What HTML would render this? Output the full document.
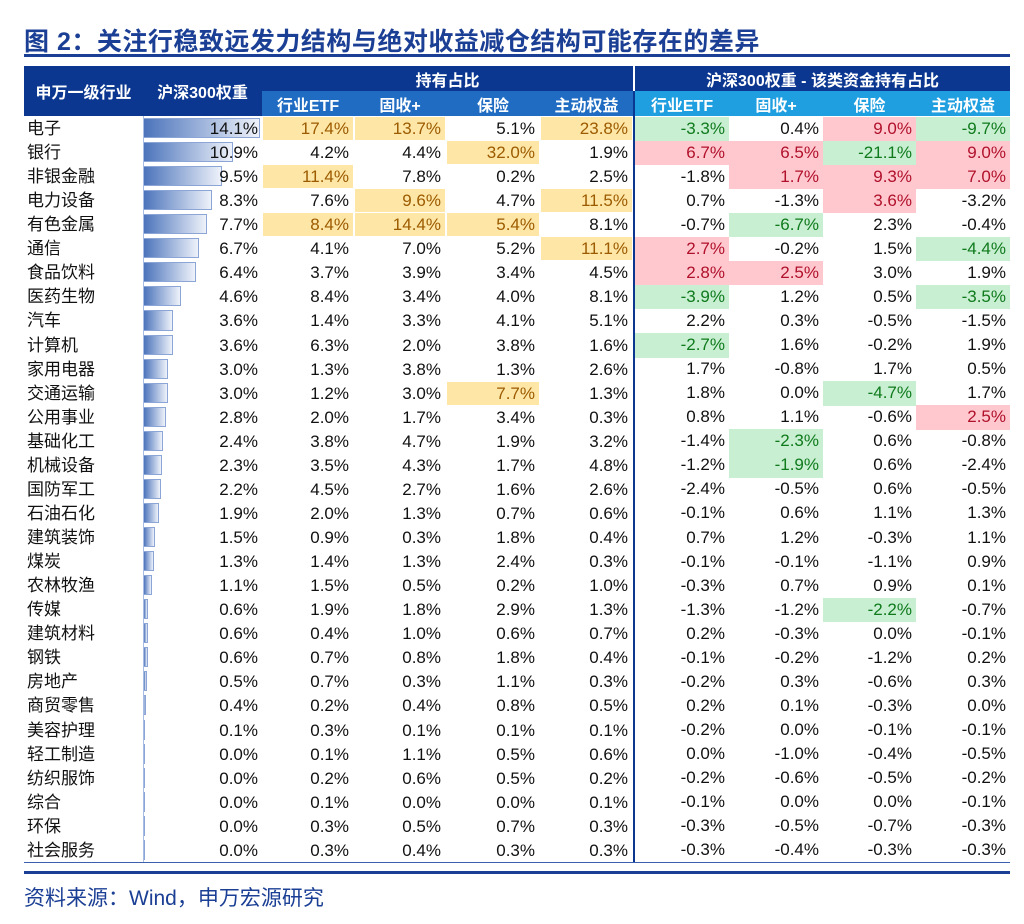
<!DOCTYPE html>
<html><head><meta charset="utf-8">
<style>
html,body{margin:0;padding:0;background:#fff;}
body{width:1024px;height:924px;position:relative;overflow:hidden;font-family:"Liberation Sans","Noto Sans CJK SC",sans-serif;}
#title{position:absolute;left:24px;top:22px;font-size:25px;font-weight:bold;color:#1b3f94;letter-spacing:0.5px;white-space:nowrap;}
#tline{position:absolute;left:24px;top:54px;width:986px;height:3px;background:#1b3f94;}
.h{position:absolute;color:#fff;font-weight:bold;font-size:16px;display:flex;align-items:center;justify-content:center;box-sizing:border-box;white-space:nowrap;}
.c{position:absolute;font-size:17px;box-sizing:border-box;text-align:right;padding-right:4px;line-height:24px;white-space:nowrap;color:#111;}
.n{position:absolute;font-size:17px;line-height:24px;left:27px;color:#111;white-space:nowrap;}
#src{position:absolute;left:24px;top:882px;font-size:21px;color:#1b3f94;}
</style></head><body>
<div id="title">图 2：关注行稳致远发力结构与绝对收益减仓结构可能存在的差异</div>
<div id="tline"></div>
<div id="table"></div>
<div id="src">资料来源：Wind，申万宏源研究</div>
<script>
const industries=["电子","银行","非银金融","电力设备","有色金属","通信","食品饮料","医药生物","汽车","计算机","家用电器","交通运输","公用事业","基础化工","机械设备","国防军工","石油石化","建筑装饰","煤炭","农林牧渔","传媒","建筑材料","钢铁","房地产","商贸零售","美容护理","轻工制造","纺织服饰","综合","环保","社会服务"];
const weights=[14.1,10.9,9.5,8.3,7.7,6.7,6.4,4.6,3.6,3.6,3.0,3.0,2.8,2.4,2.3,2.2,1.9,1.5,1.3,1.1,0.6,0.6,0.6,0.5,0.4,0.1,0.0,0.0,0.0,0.0,0.0];
const holdETF=[17.4,4.2,11.4,7.6,8.4,4.1,3.7,8.4,1.4,6.3,1.3,1.2,2.0,3.8,3.5,4.5,2.0,0.9,1.4,1.5,1.9,0.4,0.7,0.7,0.2,0.3,0.1,0.2,0.1,0.3,0.3];
const holdFixed=[13.7,4.4,7.8,9.6,14.4,7.0,3.9,3.4,3.3,2.0,3.8,3.0,1.7,4.7,4.3,2.7,1.3,0.3,1.3,0.5,1.8,1.0,0.8,0.3,0.4,0.1,1.1,0.6,0.0,0.5,0.4];
const holdIns=[5.1,32.0,0.2,4.7,5.4,5.2,3.4,4.0,4.1,3.8,1.3,7.7,3.4,1.9,1.7,1.6,0.7,1.8,2.4,0.2,2.9,0.6,1.8,1.1,0.8,0.1,0.5,0.5,0.0,0.7,0.3];
const holdActive=[23.8,1.9,2.5,11.5,8.1,11.1,4.5,8.1,5.1,1.6,2.6,1.3,0.3,3.2,4.8,2.6,0.6,0.4,0.3,1.0,1.3,0.7,0.4,0.3,0.5,0.1,0.6,0.2,0.1,0.3,0.3];
const diffETF=[-3.3,6.7,-1.8,0.7,-0.7,2.7,2.8,-3.9,2.2,-2.7,1.7,1.8,0.8,-1.4,-1.2,-2.4,-0.1,0.7,-0.1,-0.3,-1.3,0.2,-0.1,-0.2,0.2,-0.2,0.0,-0.2,-0.1,-0.3,-0.3];
const diffFixed=[0.4,6.5,1.7,-1.3,-6.7,-0.2,2.5,1.2,0.3,1.6,-0.8,0.0,1.1,-2.3,-1.9,-0.5,0.6,1.2,-0.1,0.7,-1.2,-0.3,-0.2,0.3,0.1,0.0,-1.0,-0.6,0.0,-0.5,-0.4];
const diffIns=[9.0,-21.1,9.3,3.6,2.3,1.5,3.0,0.5,-0.5,-0.2,1.7,-4.7,-0.6,0.6,0.6,0.6,1.1,-0.3,-1.1,0.9,-2.2,0.0,-1.2,-0.6,-0.3,-0.1,-0.4,-0.5,0.0,-0.7,-0.3];
const diffActive=[-9.7,9.0,7.0,-3.2,-0.4,-4.4,1.9,-3.5,-1.5,1.9,0.5,1.7,2.5,-0.8,-2.4,-0.5,1.3,1.1,0.9,0.1,-0.7,-0.1,0.2,0.3,0.0,-0.1,-0.5,-0.2,-0.1,-0.3,-0.3];
const holdHi=["1101","0010","1000","0101","1110","0001","0000","0000","0000","0000","0000","0010","0000","0000","0000","0000","0000","0000","0000","0000","0000","0000","0000","0000","0000","0000","0000","0000","0000","0000","0000"];
const diffHi=["1011","1111","0111","0010","0100","1001","1100","1001","0000","1000","0000","0010","0001","0100","0100","0000","0000","0000","0000","0000","0010","0000","0000","0000","0000","0000","0000","0000","0000","0000","0000"];

const T=document.getElementById('table');
const top0=116, rowH=24.06;
const barX=143, barMaxW=117, barMaxV=14.1;
const xBar=v=>Math.max(1,v/barMaxV*barMaxW);
const leftCols=[[262,354],[354,446],[446,540],[540,633]];
const rightCols=[[635,729],[729,823],[823,916],[916,1010]];
function add(cls,x,y,w,h,txt,bg,col,name){
  const d=document.createElement('div');d.className=cls;
  d.style.left=x+'px';d.style.top=y+'px';d.style.width=w+'px';d.style.height=h+'px';
  if(bg)d.style.background=bg; if(col)d.style.color=col;
  d.textContent=txt;
  
  
  T.appendChild(d);return d;
}
add('h',24,66,119,50,'申万一级行业','#0b3790',null,'header-industry');
add('h',143,66,119,50,'沪深300权重','#0b3790',null,'header-weight');
add('h',262,66,371,25,'持有占比','#0b3790',null,'header-holding-group');
add('h',635,66,375,25,'沪深300权重 - 该类资金持有占比','#0b3790',null,'header-diff-group');
const subs=['行业ETF','固收+','保险','主动权益'];
leftCols.forEach((c,i)=>add('h',c[0],91,c[1]-c[0],25,subs[i],'#1f6cc2',null,'header-holding-'+i));
rightCols.forEach((c,i)=>add('h',c[0],91,c[1]-c[0],25,subs[i],'#1f9fe0',null,'header-diff-'+i));
const hold=[holdETF,holdFixed,holdIns,holdActive];
const diff=[diffETF,diffFixed,diffIns,diffActive];
industries.forEach((name,r)=>{
  const y=top0+r*rowH;
  const n=document.createElement('div');n.className='n';n.style.top=(y+1)+'px';n.textContent=name;
  
  
  T.appendChild(n);
  const b=document.createElement('div');
  b.style.cssText='position:absolute;left:'+barX+'px;top:'+(y+2)+'px;height:'+(rowH-4)+'px;width:'+xBar(weights[r])+'px;background:linear-gradient(90deg,#4c74bb,#eef2fa);box-sizing:border-box;border:1px solid #8aa5d6;';
  
  
  T.appendChild(b);
  add('c',143,y+1,119,rowH,weights[r].toFixed(1)+'%',null,null,'weight-value');
  leftCols.forEach((c,i)=>{
    const hi=holdHi[r][i]==='1';
    add('c',c[0]+1,y+1,c[1]-c[0]-2,rowH-1,hold[i][r].toFixed(1)+'%',hi?'#fde6a6':null,hi?'#9c5b00':null,'holding-cell');
  });
  rightCols.forEach((c,i)=>{
    const v=diff[i][r];const hi=diffHi[r][i]==='1';
    let bg=null,col=null;
    if(hi){ if(v<0){bg='#c8efd2';col='#0f7a1c';} else {bg='#ffc8cf';col='#b0102a';} }
    add('c',c[0],y+0.5,c[1]-c[0],rowH+0.5,v.toFixed(1)+'%',bg,col,'diff-cell');
  });
});
const endY=top0+industries.length*rowH;
const ln=(x,y,w,h,c,name)=>{const d=document.createElement('div');d.style.cssText='position:absolute;left:'+x+'px;top:'+y+'px;width:'+w+'px;height:'+h+'px;background:'+c;
  
  
  T.appendChild(d);};
ln(633,91,2,endY-91,'#0b3790','group-divider');
ln(143,top0,1,endY-top0,'#a9bde3','bar-axis');
ln(24,endY,986,1,'#3a5fae','table-bottom-line');
ln(24,871,986,3,'#1b3f94','footer-rule');
</script>
</body></html>
